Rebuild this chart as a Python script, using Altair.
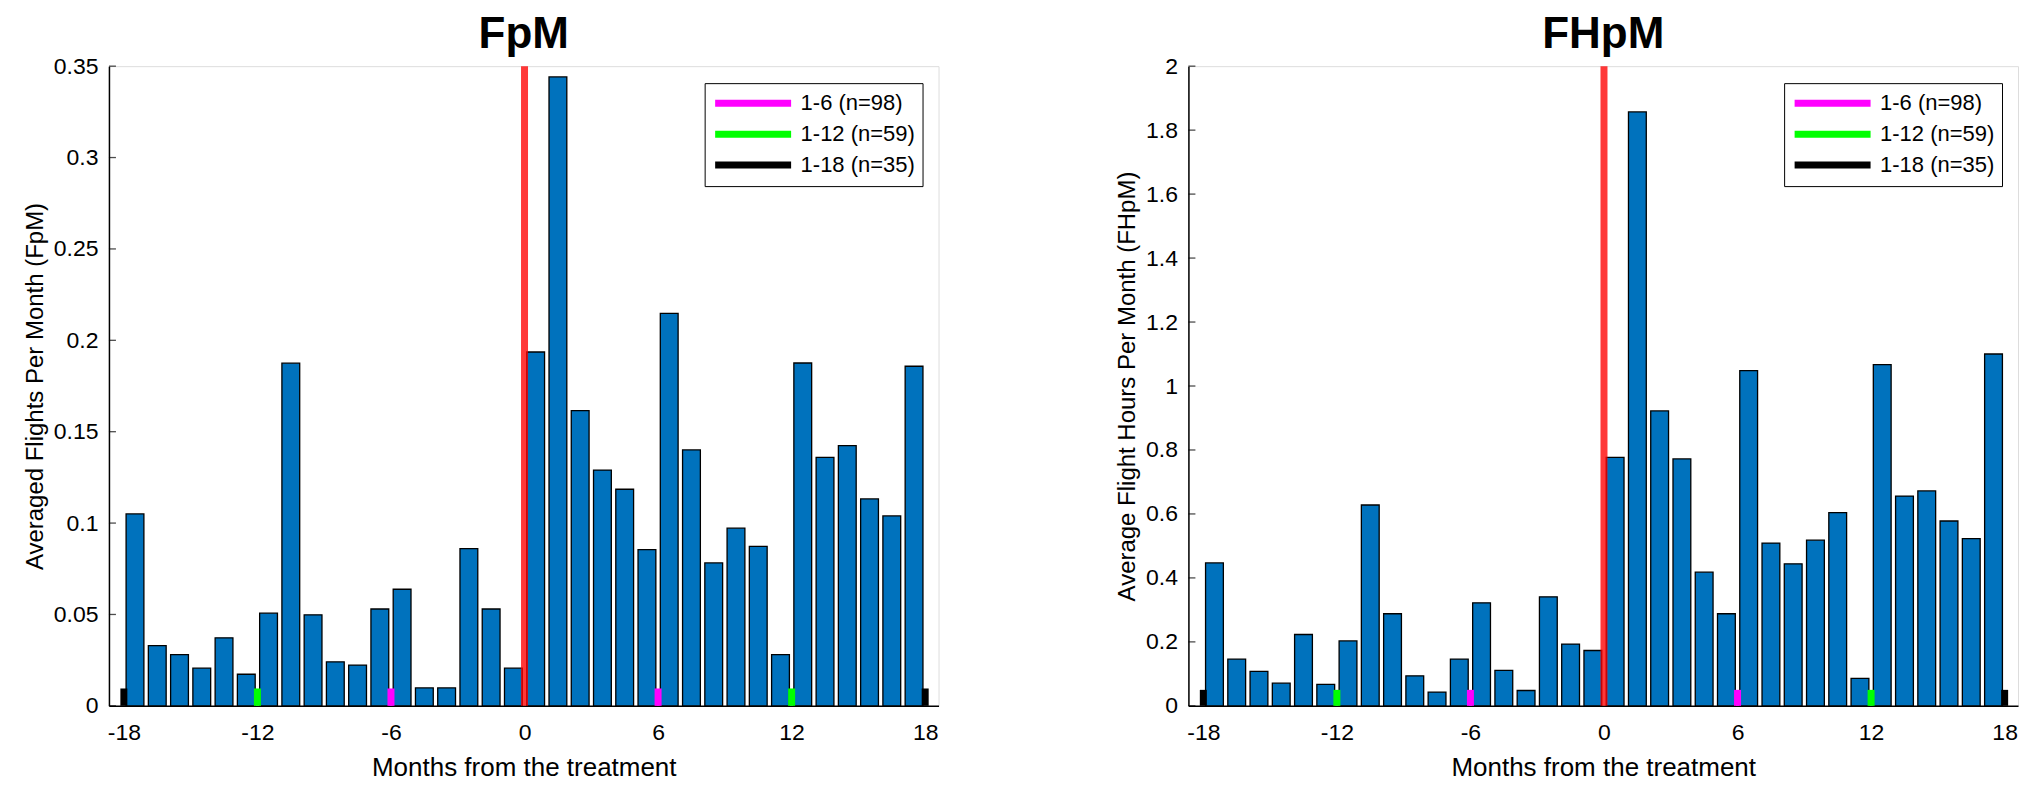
import altair as alt
import pandas as pd

# ---------------- data ----------------
months = [-17.5, -16.5, -15.5, -14.5, -13.5, -12.5, -11.5, -10.5, -9.5,
          -8.5, -7.5, -6.5, -5.5, -4.5, -3.5, -2.5, -1.5, -0.5,
          0.5, 1.5, 2.5, 3.5, 4.5, 5.5, 6.5, 7.5, 8.5,
          9.5, 10.5, 11.5, 12.5, 13.5, 14.5, 15.5, 16.5, 17.5]

fpm = [0.105, 0.033, 0.028, 0.0206, 0.0372, 0.0173, 0.0507, 0.1875, 0.0498,
       0.0241, 0.0223, 0.053, 0.0638, 0.0098, 0.0098, 0.086, 0.053, 0.0206,
       0.1936, 0.3441, 0.1615, 0.129, 0.1185, 0.0855, 0.2147, 0.140, 0.0782,
       0.0972, 0.0873, 0.0280, 0.1876, 0.136, 0.1424, 0.1132, 0.1039, 0.1858]

fhpm = [0.447, 0.146, 0.108, 0.071, 0.223, 0.067, 0.203, 0.628, 0.288,
        0.094, 0.043, 0.146, 0.322, 0.111, 0.048, 0.341, 0.193, 0.173,
        0.777, 1.857, 0.922, 0.772, 0.418, 0.288, 1.048, 0.509, 0.444,
        0.518, 0.604, 0.086, 1.067, 0.656, 0.672, 0.578, 0.523, 1.100]

marker_months = [-18, -12, -6, 6, 12, 18]
marker_groups = ["1-18 (n=35)", "1-12 (n=59)", "1-6 (n=98)",
                 "1-6 (n=98)", "1-12 (n=59)", "1-18 (n=35)"]
legend_labels = ["1-6 (n=98)", "1-12 (n=59)", "1-18 (n=35)"]
legend_colors = ["#ff00ff", "#00ff00", "#000000"]

x_ticks = [-18, -12, -6, 0, 6, 12, 18]
fpm_ticks = [0, 0.05, 0.1, 0.15, 0.2, 0.25, 0.3, 0.35]
fhpm_ticks = [0, 0.2, 0.4, 0.6, 0.8, 1, 1.2, 1.4, 1.6, 1.8, 2]

treatment_month = [0]

FONT = "Liberation Sans"
W, H = 830, 640
X_DOMAIN = [-18.67, 18.6]


def panel(title, values, ytitle, ymax, yticks, marker_top):
    df = pd.DataFrame({"month": months, "value": values,
                       "base": [0] * len(months)})
    xscale = alt.Scale(domain=X_DOMAIN, nice=False, zero=False)
    yscale = alt.Scale(domain=[0, ymax], nice=False, zero=True)

    bars = alt.Chart(df).transform_calculate(
        x0="datum.month - 0.4", x1="datum.month + 0.4"
    ).mark_bar(color="#0072BD", stroke="black", strokeWidth=1.3).encode(
        x=alt.X("x0:Q", scale=xscale,
                axis=alt.Axis(values=x_ticks, title="Months from the treatment",
                              labelExpr="toString(datum.value)",
                              ticks=False, grid=False, labelPadding=16,
                              titlePadding=10, domainColor="black",
                              domainWidth=1.5, labelFontSize=23,
                              titleFontSize=26, titleFontWeight="normal",
                              labelColor="black", titleColor="black",
                              labelFont=FONT, titleFont=FONT)),
        x2="x1:Q",
        y=alt.Y("value:Q", scale=yscale,
                axis=alt.Axis(values=yticks, title=ytitle, format="~g",
                              ticks=False, grid=False, labelPadding=11,
                              titlePadding=6, domainColor="black",
                              domainWidth=1.5, labelFontSize=23,
                              titleFontSize=24, titleFontWeight="normal",
                              labelColor="black", titleColor="black",
                              labelFont=FONT, titleFont=FONT)),
        y2="base:Q",
    )

    inner_ticks = alt.Chart(pd.DataFrame({"yt": yticks})).mark_tick(
        orient="horizontal", color="black", thickness=1.3, size=7
    ).encode(y=alt.Y("yt:Q", scale=yscale), x=alt.value(3.5))

    red = alt.Chart(pd.DataFrame({"t": treatment_month})).mark_rule(
        color="#ff0000", strokeWidth=7, opacity=0.78
    ).encode(x=alt.X("t:Q", scale=xscale), y=alt.value(0), y2=alt.value(H))

    mdf = pd.DataFrame({"month": marker_months, "group": marker_groups,
                        "base": [0] * len(marker_months),
                        "top": [marker_top] * len(marker_months)})
    markers = alt.Chart(mdf).mark_rule(strokeWidth=7, strokeCap="butt").encode(
        x=alt.X("month:Q", scale=xscale),
        y=alt.Y("base:Q", scale=yscale),
        y2="top:Q",
        color=alt.Color("group:N",
                        scale=alt.Scale(domain=legend_labels, range=legend_colors),
                        sort=legend_labels,
                        legend=alt.Legend(
                            title=None, orient="none", legendX=596, legendY=17,
                            symbolType="M-1,0L7,0", symbolSize=361,
                            symbolStrokeWidth=7, labelFontSize=22,
                            labelFont=FONT, labelColor="black",
                            labelOffset=63, rowPadding=3, padding=7,
                            strokeColor="black", fillColor="white")),
    )

    head = alt.Chart(pd.DataFrame({"t": [title]})).mark_text(
        fontSize=44, fontWeight="bold", font=FONT, color="black",
        align="center", baseline="alphabetic"
    ).encode(text="t:N", x=alt.value(W / 2), y=alt.value(-18))

    return alt.layer(bars, inner_ticks, markers, red, head).properties(
        width=W, height=H)


left = panel("FpM", fpm, "Averaged Flights Per Month (FpM)", 0.35, fpm_ticks, 0.0095)
right = panel("FHpM", fhpm, "Average Flight Hours Per Month (FHpM)", 2, fhpm_ticks, 0.05)

chart = alt.hconcat(left, right, spacing=175).resolve_scale(
    x="independent", y="independent", color="independent"
).resolve_legend(color="independent").properties(
    padding={"left": 14, "top": 4, "right": 5, "bottom": 0}
).configure_view(stroke=None).configure(background="white")

chart.save("out.html", embed_options={"renderer": "svg", "actions": False})
